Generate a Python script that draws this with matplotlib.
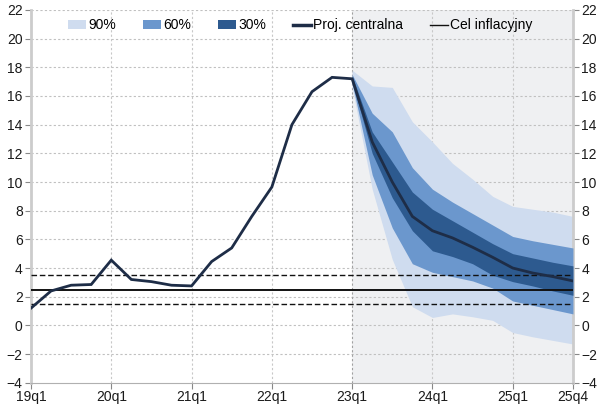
import numpy as np
import matplotlib
matplotlib.use("Agg")
import matplotlib.pyplot as plt
from matplotlib.patches import Patch
from matplotlib.lines import Line2D

plt.rcParams['font.family'] = ['Liberation Sans', 'DejaVu Sans']
plt.rcParams['font.size'] = 10

# kwartaly 19q1..25q4
etykiety_x = ['19q1', '20q1', '21q1', '22q1', '23q1', '24q1', '25q1', '25q4']
pozycje_x = [0, 4, 8, 12, 16, 20, 24, 27]

# inflacja 19q1..23q1 (dane) i projekcja centralna 23q2..25q4
historia = [1.2, 2.4, 2.8, 2.85, 4.55, 3.2, 3.05, 2.8, 2.75, 4.45, 5.4, 7.6,
            9.65, 14.0, 16.3, 17.3, 17.2]
projekcja = [12.8, 10.0, 7.6, 6.6, 6.1, 5.45, 4.75, 4.0, 3.65, 3.4, 3.1]

# przedzialy wachlarza 23q1..25q4
gora_90 = [17.8, 16.7, 16.6, 14.2, 12.8, 11.3, 10.2, 9.0, 8.3, 8.1, 7.9, 7.6]
dol_90 = [16.6, 9.5, 4.6, 1.3, 0.55, 0.8, 0.6, 0.35, -0.5, -0.8, -1.05, -1.3]
gora_60 = [17.5, 14.8, 13.5, 11.0, 9.5, 8.6, 7.8, 7.0, 6.2, 5.9, 5.65, 5.4]
dol_60 = [16.9, 10.5, 6.8, 4.3, 3.7, 3.4, 3.1, 2.6, 1.7, 1.4, 1.1, 0.8]
gora_30 = [17.4, 13.5, 11.4, 9.3, 8.1, 7.3, 6.5, 5.7, 5.0, 4.7, 4.4, 4.15]
dol_30 = [17.0, 12.0, 8.9, 6.6, 5.2, 4.8, 4.3, 3.5, 3.05, 2.75, 2.4, 2.1]

cel = 2.5
pasmo = 1.0

kolory = ['#cfdcef', '#6b97cd', '#2d5a8f']
kolor_linii = '#1e2d47'

fig = plt.figure(figsize=(6.11, 4.09), dpi=100)
ax = fig.add_axes([0.0507, 0.0643, 0.887, 0.9113])

seria = historia + projekcja
x = np.arange(len(seria))
x_proj = np.arange(len(historia) - 1, len(seria))

# tlo okresu projekcji
ax.axvspan(16, 27, color='#eff0f2', zorder=0, lw=0)

ax.fill_between(x_proj, dol_90, gora_90, color=kolory[0], lw=0, zorder=2)
ax.fill_between(x_proj, dol_60, gora_60, color=kolory[1], lw=0, zorder=3)
ax.fill_between(x_proj, dol_30, gora_30, color=kolory[2], lw=0, zorder=4)

ax.axhline(cel, color='#111111', lw=1.4, zorder=5)
ax.axhline(cel + pasmo, color='#111111', lw=1.0, ls=(0, (4, 2)), zorder=5)
ax.axhline(cel - pasmo, color='#111111', lw=1.0, ls=(0, (4, 2)), zorder=5)

ax.plot(x, seria, color=kolor_linii, lw=2.0, zorder=6, solid_joinstyle='miter')

ax.set_xlim(0, 27)
ax.set_ylim(-4, 22)
ax.set_yticks(np.arange(-4, 23, 2))
ax.set_xticks(pozycje_x)
ax.set_xticklabels(etykiety_x)

# siatka
for yv in np.arange(-2, 23, 2):
    ax.axhline(yv, color='#c0c0c0', lw=0.8, ls=(0, (2, 2)), zorder=1)
for xv in [4, 8, 12, 20, 24]:
    ax.axvline(xv, color='#c8c8c8', lw=0.8, ls=(0, (2, 2)), zorder=1)
ax.axvline(16, color='#a0a0a0', lw=0.8, ls=(0, (2, 2)), zorder=1)

ax.spines['top'].set_visible(False)
ax.spines['left'].set_color('#cccccc')
ax.spines['left'].set_linewidth(2.0)
ax.spines['right'].set_color('#cccccc')
ax.spines['right'].set_linewidth(2.0)
ax.spines['bottom'].set_color('#b0b0b0')
ax.spines['bottom'].set_linewidth(0.8)

ax.tick_params(axis='y', which='both', left=True, right=True, labelleft=True,
               labelright=True, length=4, width=0.8, color='#888888',
               pad=2, labelcolor='#1a1a1a')
ax.tick_params(axis='x', length=4, width=0.8, color='#888888', pad=1,
               labelcolor='#1a1a1a')

uchwyty = [Patch(facecolor=kolory[0], edgecolor='none'),
           Patch(facecolor=kolory[1], edgecolor='none'),
           Patch(facecolor=kolory[2], edgecolor='none'),
           Line2D([], [], color=kolor_linii, lw=2.5),
           Line2D([], [], color='#111111', lw=1.0)]
opisy = ['90%', '60%', '30%', 'Proj. centralna', 'Cel inflacyjny']
ax.legend(uchwyty, opisy, ncol=5, frameon=False, loc='center left',
          bbox_to_anchor=(0.111, 0.938), bbox_transform=fig.transFigure,
          handlelength=1.3, handleheight=0.55, handletextpad=0.15,
          columnspacing=1.95, borderaxespad=0, borderpad=0)

fig.savefig('out.png', dpi=100)
